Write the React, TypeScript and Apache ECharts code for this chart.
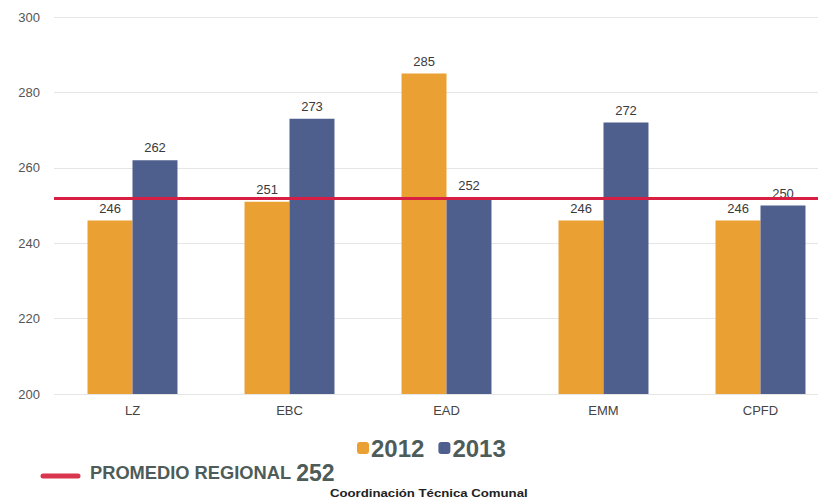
import React, { useEffect, useRef } from "react";
import * as echarts from "echarts";

const categories = ["LZ", "EBC", "EAD", "EMM", "CPFD"];
const values2012 = [246, 251, 285, 246, 246];
const values2013 = [262, 273, 252, 272, 250];
const regionalAverage = 252;
const yTicks = { min: 200, max: 300, interval: 20 };

export default function App() {
  const ref = useRef<HTMLDivElement>(null);
  useEffect(() => {
    const chart = echarts.init(ref.current!, undefined, { renderer: "svg" });
    const labelStyle = {
      show: true,
      position: "top" as const,
      color: "#3a3a3a",
      fontSize: 13,
      fontFamily: "Liberation Sans, Arial, sans-serif",
      distance: 6,
    };
    chart.setOption({
      animation: false,
      backgroundColor: "#ffffff",
      grid: { left: 54, width: 785, top: 17, height: 377 },
      legend: {
        left: 352,
        top: 431,
        itemWidth: 12,
        itemHeight: 12,
        itemGap: 14,
        icon: "roundRect",
        data: ["2012", "2013"],
        textStyle: {
          fontSize: 24,
          fontWeight: "bold",
          color: "#4d5c58",
          fontFamily: "Liberation Sans, Arial, sans-serif",
          padding: [0, 0, 0, -3],
        },
      },
      xAxis: {
        type: "category",
        data: categories,
        axisLine: { show: false },
        axisTick: { show: false },
        axisLabel: {
          color: "#444",
          fontSize: 13,
          margin: 10,
          fontFamily: "Liberation Sans, Arial, sans-serif",
        },
      },
      yAxis: {
        type: "value",
        min: yTicks.min,
        max: yTicks.max,
        interval: yTicks.interval,
        axisLine: { show: false },
        axisTick: { show: false },
        splitLine: { lineStyle: { color: "#e6e6e6", width: 1 } },
        axisLabel: {
          color: "#555",
          fontSize: 13,
          margin: 14,
          fontFamily: "Liberation Sans, Arial, sans-serif",
        },
      },
      series: [
        {
          name: "2012",
          type: "bar",
          data: values2012,
          barGap: "0%",
          barCategoryGap: "42.7%",
          itemStyle: { color: "#EBA033" },
          label: labelStyle,
          markLine: {
            silent: true,
            symbol: "none",
            label: { show: false },
            lineStyle: { color: "#D91E43", width: 3, type: "solid" },
            data: [{ yAxis: regionalAverage }],
            z: 10,
          },
        },
        {
          name: "2013",
          type: "bar",
          data: values2013,
          itemStyle: { color: "#4E5F8E" },
          label: labelStyle,
        },
      ],
      graphic: [
        {
          type: "line",
          shape: { x1: 43, y1: 476, x2: 78, y2: 476 },
          style: { stroke: "#D9354E", lineWidth: 5, lineCap: "round" },
        },
        {
          type: "text",
          left: 90,
          top: 461,
          style: {
            text: "{a|PROMEDIO REGIONAL }{b|" + regionalAverage + "}",
            rich: {
              a: {
                fontSize: 18.3,
                fontWeight: "bold",
                fill: "#4d5c58",
                fontFamily: "Liberation Sans, Arial, sans-serif",
              },
              b: {
                fontSize: 23,
                fontWeight: "bold",
                fill: "#4d5c58",
                fontFamily: "Liberation Sans, Arial, sans-serif",
              },
            },
          },
        },
        {
          type: "text",
          x: 330,
          y: 488,
          scaleX: 1.32,
          style: {
            text: "Coordinación Técnica Comunal",
            fontSize: 10,
            fontWeight: "bold",
            fill: "#222",
            fontFamily: "Liberation Sans, Arial, sans-serif",
          },
        },
      ],
    });
    return () => chart.dispose();
  }, []);
  return (
    <div style={{ width: 818, height: 502, position: "absolute", left: 0, top: 0, overflow: "hidden" }}>
      <div ref={ref} style={{ width: 840, height: 502 }} />
    </div>
  );
}
